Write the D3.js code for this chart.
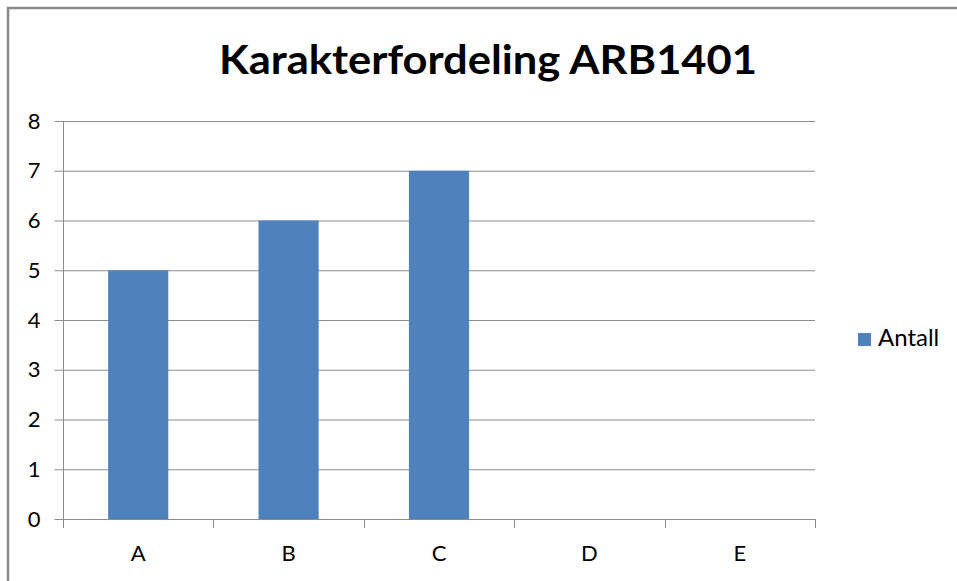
<!DOCTYPE html>
<html><head><meta charset="utf-8">
<script src="https://cdn.jsdelivr.net/npm/d3@7"></script>
<style>body{margin:0;background:#fff}svg{display:block}</style>
</head><body>
<svg id="c" width="957" height="581"></svg>
<script>
const categories = ["A","B","C","D","E"];
const values = [5,6,7,0,0];
const yTicks = [0,1,2,3,4,5,6,7,8];
const seriesName = "Antall";
const title = "Karakterfordeling ARB1401";

const svg = d3.select("#c");
const font = "Lato, 'Open Sans', sans-serif";
// chart border (only left and top visible)
svg.append("rect").attr("x",8).attr("y",8).attr("width",960).attr("height",600)
  .attr("fill","#fff").attr("stroke","#8a8a8a").attr("stroke-width",2.5);

const L=63, R=815, T=121, B=519;
const x = d3.scaleBand().domain(categories).range([L,R]).paddingInner(0.6).paddingOuter(0.3);
const xb = d3.scaleBand().domain(categories).range([L,R]);
const y = d3.scaleLinear().domain([0,8]).range([B,T]);

// gridlines
svg.append("g").selectAll("line").data(yTicks.filter(d=>d>0)).join("line")
  .attr("x1",L).attr("x2",R).attr("y1",d=>y(d)+0.5).attr("y2",d=>y(d)+0.5)
  .attr("stroke","#8c8c8c").attr("stroke-width",1);

// bars
svg.append("g").selectAll("rect").data(values).join("rect")
  .attr("x",(d,i)=>x(categories[i])).attr("width",x.bandwidth())
  .attr("y",d=>y(d)).attr("height",d=>B-y(d)).attr("fill","#4F81BD");

// y axis
const ya = svg.append("g").attr("transform",`translate(${L+0.5},0)`)
  .call(d3.axisLeft(y).tickValues(yTicks).tickSize(9).tickPadding(14).tickFormat(d3.format("d")));
ya.select(".domain").attr("stroke","#8c8c8c").attr("d",`M0,${T}V${B}`);
ya.selectAll(".tick line").attr("stroke","#8c8c8c");
ya.selectAll("text").attr("font-family",font).attr("font-size",22).attr("fill","#000");

// x axis
const xa = svg.append("g").attr("transform",`translate(0,${B+0.5})`)
  .call(d3.axisBottom(xb).tickSize(0).tickPadding(26));
xa.select(".domain").attr("stroke","#8c8c8c").attr("d",`M${L},0H${R}`);
xa.selectAll("text").attr("font-family",font).attr("font-size",22).attr("fill","#000");
const bounds = categories.map(c=>xb(c)).concat([R]);
svg.append("g").selectAll("line").data(bounds).join("line")
  .attr("x1",d=>Math.round(d)+0.5).attr("x2",d=>Math.round(d)+0.5)
  .attr("y1",B).attr("y2",B+9).attr("stroke","#8c8c8c");

// title
svg.append("text").attr("x",488).attr("y",74).attr("text-anchor","middle")
  .attr("font-family",font).attr("font-weight","bold").attr("font-size",41)
  .attr("textLength",538).attr("lengthAdjust","spacingAndGlyphs").text(title);

// legend
svg.append("rect").attr("x",858).attr("y",333).attr("width",13).attr("height",13).attr("fill","#4F81BD");
svg.append("text").attr("x",878).attr("y",346).attr("font-family",font).attr("font-size",24).text(seriesName);
</script>
</body></html>
